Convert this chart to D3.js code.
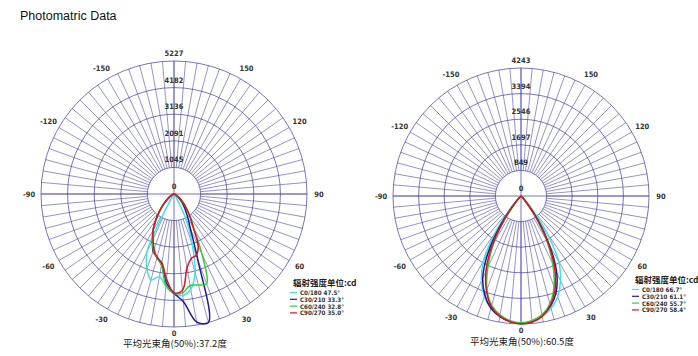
<!DOCTYPE html>
<html>
<head>
	<title>Photometric data</title>
	<style>
		body { margin: 0; background: #fff; }
		svg { display: block; background: #fff; }
		.grid { fill: none; stroke: #3b3ba6; stroke-width: 0.7; }
		.spoke { stroke: #4a4ab4; stroke-width: 0.6; }
		.lbl { font-family: "DejaVu Sans Condensed", "DejaVu Sans", sans-serif; font-size: 7.5px; font-weight: bold; fill: #333; }
		.leg { font-family: "DejaVu Sans Condensed", "DejaVu Sans", sans-serif; font-size: 6.2px; font-weight: bold; fill: #333; }
		.curve { fill: none; stroke-width: 1.5; }
	</style>
	<script src="https://d3js.org/d3.v7.min.js"></script>
</head>
<body>
<svg width="698" height="356"></svg>
<script>

	// angles in degrees, 0 = straight down, positive to the right
	var angles = [-90,-85,-80,-75,-70,-65,-60,-55,-50,-45,-40,-35,-30,-25,-20,-15,-10,-5,0,
	              5,10,15,20,25,30,35,40,45,50,55,60,65,70,75,80,85,90];
	var angleTicks = [-150,-120,-90,-60,-30,0,30,60,90,120,150];

	var seriesNames = ["C0/180", "C30/210", "C60/240", "C90/270"];
	var seriesColors = ["#3fe3e3", "#1c1c9c", "#2fcf2f", "#e0101e"];

	// left lamp (cd)
	var leftTicks = [1045, 2091, 3136, 4182, 5227];
	var leftBeam = ["47.5°", "33.3°", "32.8°", "35.0°"];
	var leftC0  = [0,0,0,0,0,0,0,0,0,0,20,80,300,2500,3100,3500,3300,3650,3920,4000,3800,3200,2100,1200,300,80,20,0,0,0,0,0,0,0,0,0,0];
	var leftC30 = [0,0,0,0,0,60,130,230,380,600,880,1250,1650,2000,2400,2570,2800,3500,3900,4250,5100,5227,2700,1550,1100,800,580,400,260,160,90,40,10,0,0,0,0];
	var leftC60 = [0,0,0,0,0,50,120,220,360,580,860,1220,1650,2000,2350,2600,2850,3600,3900,3900,3650,3700,3750,2600,1550,1150,800,560,380,240,140,70,30,0,0,0,0];
	var leftC90 = [0,0,0,0,30,80,150,250,400,620,900,1250,1640,1950,2300,2580,2750,3350,3890,3800,2950,2620,2560,2250,1500,1100,780,560,380,240,140,70,30,0,0,0,0];
	var leftAvg = "平均光束角(50%):37.2度";

	// right lamp (cd)
	var rightTicks = [849, 1697, 2546, 3394, 4243];
	var rightBeam = ["66.7°", "61.1°", "55.7°", "58.4°"];
	var rightC0  = [0,0,0,0,0,0,0,0,20,150,600,1500,2500,3100,3550,3850,4050,4180,4230,4180,4050,3850,3550,3100,2500,1500,600,150,20,0,0,0,0,0,0,0,0];
	var rightC30 = [0,0,0,0,0,0,0,0,10,80,400,1200,2200,3000,3500,3850,4050,4180,4220,4170,4020,3780,3400,2800,1900,1000,300,60,10,0,0,0,0,0,0,0,0];
	var rightC60 = [0,0,0,0,0,0,0,0,0,40,250,900,1800,2600,3300,3750,4000,4150,4200,4150,4000,3700,3200,2500,1700,800,200,30,0,0,0,0,0,0,0,0,0];
	var rightC90 = [0,0,0,0,0,0,0,0,0,60,300,1000,1950,2750,3350,3800,4050,4180,4243,4200,4050,3750,3300,2650,1800,900,250,40,0,0,0,0,0,0,0,0,0];
	var rightAvg = "平均光束角(50%):60.5度";

	var svg = d3.select("svg");

	svg.append("text")
	   .attr("x", 20).attr("y", 20)
	   .attr("font-family", "Liberation Sans, Arial, sans-serif")
	   .attr("font-size", "12.5px")
	   .attr("fill", "#111")
	   .text("Photomatric Data");

	function drawChart(cx, cy, R, ticks, series, beams, avgText, legX, legY, avgY) {
		var g = svg.append("g").attr("transform", "translate(" + cx + "," + cy + ")");
		var rScale = d3.scaleLinear().domain([0, ticks[ticks.length - 1]]).range([0, R]);
		// 0 deg points down, positive angles go right
		var aScale = d3.scaleLinear().domain([0, 180]).range([Math.PI, 0]);

		function px(deg, r) { return r * Math.sin(aScale(deg)); }
		function py(deg, r) { return -r * Math.cos(aScale(deg)); }

		// spokes every 5 deg, from first ring outwards
		var spokeAngles = d3.range(-180, 180, 5);
		g.selectAll(".spoke")
		 .data(spokeAngles)
		 .enter().append("line")
		 .attr("class", "spoke")
		 .attr("x1", function(d) { return px(d, rScale(ticks[0])); })
		 .attr("y1", function(d) { return py(d, rScale(ticks[0])); })
		 .attr("x2", function(d) { return px(d, R); })
		 .attr("y2", function(d) { return py(d, R); });

		// full axes through the centre
		g.append("line").attr("class", "grid").attr("x1", -R).attr("x2", R).attr("y1", 0).attr("y2", 0);
		g.append("line").attr("class", "grid").attr("x1", 0).attr("x2", 0).attr("y1", -R).attr("y2", R);

		g.selectAll(".ring")
		 .data(ticks)
		 .enter().append("circle")
		 .attr("class", "grid")
		 .attr("r", function(d) { return rScale(d); });

		// intensity labels on the upper axis
		g.selectAll(".rlab")
		 .data([0].concat(ticks))
		 .enter().append("text")
		 .attr("class", "lbl")
		 .attr("x", 0)
		 .attr("y", function(d) { return -rScale(d) - 5; })
		 .attr("text-anchor", "middle")
		 .text(function(d) { return d; });

		// angle labels (the 0 one sits a bit closer, above the beam text)
		g.selectAll(".alab")
		 .data(angleTicks)
		 .enter().append("text")
		 .attr("class", "lbl")
		 .attr("font-size", function(d) { return d === 0 ? "6px" : null; })
		 .attr("x", function(d) { return px(d, d === 0 ? R + 6 : R + 12); })
		 .attr("y", function(d) { return py(d, d === 0 ? R + 6 : R + 12); })
		 .attr("text-anchor", "middle")
		 .attr("dominant-baseline", "central")
		 .text(function(d) { return d; });

		var line = d3.lineRadial()
		             .angle(function(d) { return aScale(d[0]); })
		             .radius(function(d) { return rScale(d[1]); })
		             .curve(d3.curveCatmullRom.alpha(0.5));

		series.forEach(function(vals, i) {
			g.append("path")
			 .attr("class", "curve")
			 .attr("stroke", seriesColors[i])
			 .attr("d", line(angles.map(function(a, k) { return [a, vals[k]]; })));
		});

		// legend
		svg.append("text")
		   .attr("x", legX + 3).attr("y", legY)
		   .attr("font-family", "Noto Sans CJK SC, sans-serif")
		   .attr("font-size", "8.5px")
		   .attr("font-weight", "bold")
		   .attr("fill", "#222")
		   .text("辐射强度单位:cd");
		seriesNames.forEach(function(n, i) {
			var yy = legY + 6.5 + i * 6.8;
			svg.append("line")
			   .attr("x1", legX).attr("x2", legX + 7)
			   .attr("y1", yy).attr("y2", yy)
			   .attr("stroke", seriesColors[i]).attr("stroke-width", 1.2);
			svg.append("text")
			   .attr("class", "leg")
			   .attr("x", legX + 10).attr("y", yy)
			   .attr("dominant-baseline", "central")
			   .text(n + " " + beams[i]);
		});

		svg.append("text")
		   .attr("x", cx + 1).attr("y", avgY)
		   .attr("text-anchor", "middle")
		   .attr("font-family", "Noto Sans CJK SC, sans-serif")
		   .attr("font-size", "9.5px")
		   .attr("fill", "#222")
		   .text(avgText);
	}

	drawChart(174, 194, 133, leftTicks, [leftC0, leftC30, leftC60, leftC90], leftBeam, leftAvg, 290, 286, 347);
	drawChart(521, 196, 128, rightTicks, [rightC0, rightC30, rightC60, rightC90], rightBeam, rightAvg, 632, 283, 345);

</script>
</body>
</html>
